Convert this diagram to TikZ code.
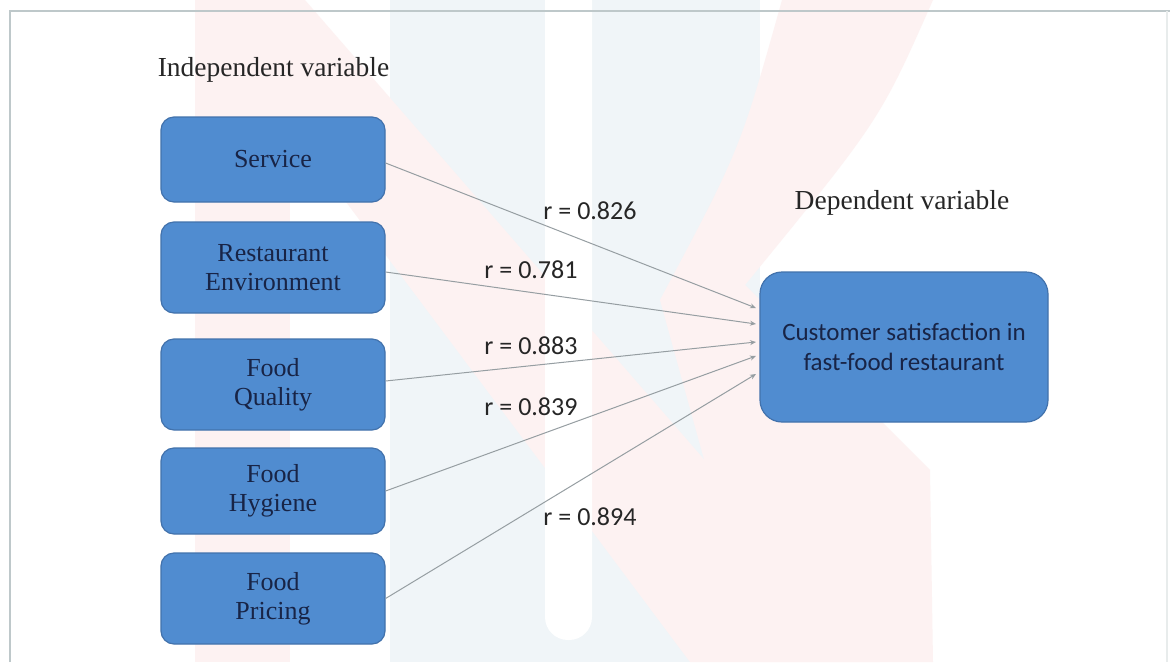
\documentclass[tikz,border=0pt]{standalone}
\usepackage{fontspec}
\setmainfont{Liberation Serif}
\newfontfamily\calib{Carlito}
\usetikzlibrary{arrows.meta}
\definecolor{boxfill}{RGB}{80,140,208}
\definecolor{boxline}{RGB}{66,114,172}
\definecolor{boxtext}{RGB}{24,36,70}
\definecolor{wmred}{RGB}{253,242,242}
\definecolor{wmblue}{RGB}{240,245,248}
\definecolor{framec}{RGB}{190,200,202}
\definecolor{arrowc}{RGB}{150,158,162}
\begin{document}
\begin{tikzpicture}[x=1pt,y=-1pt,
  ivbox/.style={draw=boxline, line width=1.2pt, fill=boxfill, rounded corners=13pt,
    minimum width=224pt, text=boxtext, font=\fontsize{26}{29}\selectfont,
    align=center, inner sep=0pt},
  dvbox/.style={draw=boxline, line width=1.2pt, fill=boxfill, rounded corners=22pt,
    minimum width=288pt, minimum height=150pt, text=boxtext,
    font=\calib\fontsize{25}{30}\selectfont, align=center, inner sep=0pt},
  head/.style={font=\fontsize{27.5}{30}\selectfont, text=black!85, inner sep=0pt},
  rlab/.style={font=\calib\fontsize{26}{28}\selectfont, text=black!85, inner sep=0pt},
  conn/.style={draw=arrowc, line width=1pt, -{Stealth[length=6pt,width=5pt]}}]
\useasboundingbox (0,0) rectangle (1170,662);
\fill[white] (0,0) rectangle (1170,662);
% faint watermark
\fill[wmblue] (390,0) rectangle (760,662);
\fill[wmred] (195,0) rectangle (290,662);
\fill[wmred] (195,0) -- (305,0) -- (880,662) -- (690,662) -- cycle;
\fill[wmred] (782,0) -- (933,0) .. controls (880,120) .. (745,285) -- (930,470)
  -- (933,662) -- (760,662) -- (660,300) .. controls (740,150) .. (782,0) -- cycle;
\fill[white, rounded corners=23pt] (545,-40) rectangle (592,640);
% frame
\draw[framec, line width=2pt] (10,662) -- (10,11) -- (1170,11);
\draw[framec!35, line width=1.5pt] (1167,11) -- (1167,662);
% headings
\node[head] (iv) at (273.5,70) {Independent variable};
\node[head] (dv) at (902,203) {Dependent variable};
% boxes
\node[ivbox, minimum height=85pt] (svc) at (273,159.5) {Service};
\node[ivbox, minimum height=91pt] (env) at (273,267.5) {Restaurant\\Environment};
\node[ivbox, minimum height=91pt] (qual) at (273,384.5) {Food\\Quality};
\node[ivbox, minimum height=86pt] (hyg) at (273,491) {Food\\Hygiene};
\node[ivbox, minimum height=91pt] (pri) at (273,598.5) {Food\\Pricing};
\node[dvbox] (cs) at (904,347) {Customer satisfaction in\\fast-food restaurant};
% arrow end points
\coordinate (t1) at (756,308);
\coordinate (t2) at (756,324);
\coordinate (t3) at (756,342);
\coordinate (t4) at (756,356);
\coordinate (t5) at (756,374);
\draw[conn] ([yshift=-3.5pt]svc.east) -- (t1);
\draw[conn] ([yshift=-4.5pt]env.east) -- (t2);
\draw[conn] ([yshift=3.5pt]qual.east) -- (t3);
\draw[conn] (hyg.east) -- (t4);
\draw[conn] (pri.east) -- (t5);
% labels
\node[rlab] (l1) at (590,211) {r = 0.826};
\node[rlab] (l2) at (531,270) {r = 0.781};
\node[rlab] (l3) at (531,346) {r = 0.883};
\node[rlab] (l4) at (531,407) {r = 0.839};
\node[rlab] (l5) at (590,517) {r = 0.894};
\end{tikzpicture}
\end{document}
